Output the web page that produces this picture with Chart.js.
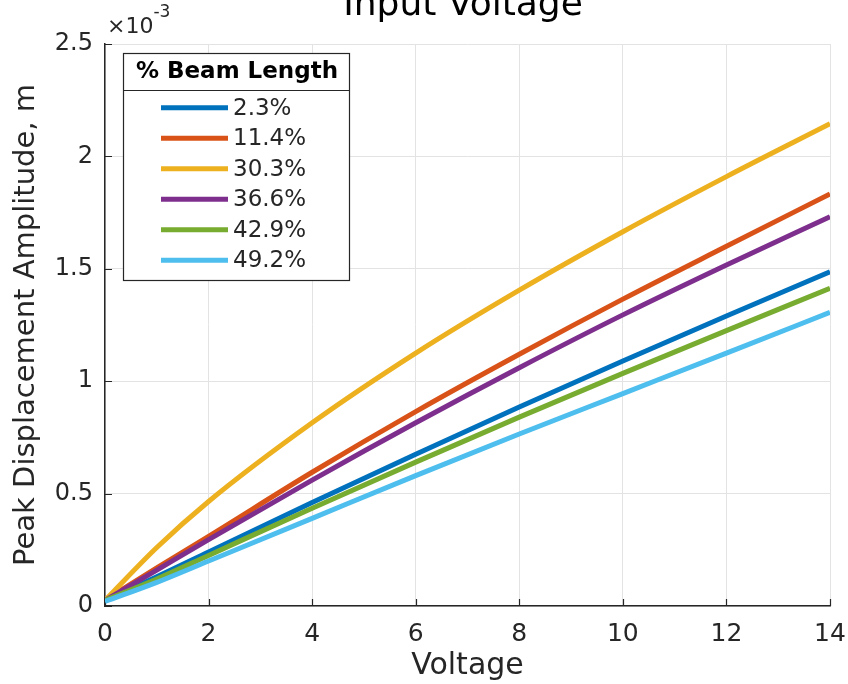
<!DOCTYPE html>
<html><head><meta charset="utf-8">
<script src="https://cdn.jsdelivr.net/npm/chart.js@4"></script>
<style>html,body{margin:0;padding:0;background:#fff}canvas{display:block}</style>
</head><body>
<canvas id="c" width="848" height="684"></canvas>
<script>
// ---- data ----
const voltage = [0, 1, 2, 4, 6, 8, 10, 12, 14];
const seriesLabels = ['2.3%', '11.4%', '30.3%', '36.6%', '42.9%', '49.2%'];
const beam_2_3  = [0.025, 0.13, 0.24, 0.46, 0.675, 0.885, 1.09, 1.29, 1.487];
const beam_11_4 = [0.025, 0.17, 0.31, 0.595, 0.865, 1.12, 1.365, 1.60, 1.833];
const beam_30_3 = [0.025, 0.26, 0.465, 0.815, 1.125, 1.405, 1.665, 1.91, 2.145];
const beam_36_6 = [0.025, 0.16, 0.295, 0.56, 0.815, 1.06, 1.295, 1.517, 1.732];
const beam_42_9 = [0.025, 0.12, 0.225, 0.435, 0.64, 0.84, 1.035, 1.225, 1.413];
const beam_49_2 = [0.02, 0.105, 0.20, 0.39, 0.58, 0.765, 0.945, 1.125, 1.306];
const xTicks = [0, 2, 4, 6, 8, 10, 12, 14];
const yTicks = [0, 0.5, 1, 1.5, 2, 2.5];
const seriesColors = ['#0072BD', '#D95319', '#EDB120', '#7E2F8E', '#77AC30', '#4DBEEE'];
const chartTitle = 'Input Voltage';
const xTitle = 'Voltage';
const yTitle = 'Peak Displacement Amplitude, m';
const legendTitle = '% Beam Length';

const allSeries = [beam_2_3, beam_11_4, beam_30_3, beam_36_6, beam_42_9, beam_49_2];
const FONT = "'DejaVu Sans', sans-serif";
const AXIS = '#262626';
const GRID = '#e3e3e3';

const datasets = allSeries.map((arr, i) => ({
  label: seriesLabels[i],
  data: voltage.map((v, j) => ({x: v, y: arr[j]})),
  borderColor: seriesColors[i],
  backgroundColor: seriesColors[i],
  borderWidth: 5,
  pointRadius: 0,
  fill: false,
  cubicInterpolationMode: 'monotone',
  order: allSeries.length - i
}));

const decor = {
  id: 'decor',
  beforeDatasetsDraw(chart) {
    const ctx = chart.ctx, a = chart.chartArea;
    const xs = chart.scales.x, ys = chart.scales.y;
    ctx.save();
    ctx.strokeStyle = AXIS; ctx.lineWidth = 1.2;
    ctx.beginPath();
    xTicks.forEach(t => { const px = Math.round(xs.getPixelForValue(t)) + 0.5; ctx.moveTo(px, a.bottom); ctx.lineTo(px, a.bottom - 7); });
    yTicks.forEach(t => { const py = Math.round(ys.getPixelForValue(t)) + 0.5; ctx.moveTo(a.left, py); ctx.lineTo(a.left + 7, py); });
    ctx.stroke();
    ctx.restore();
  },
  afterDraw(chart) {
    const ctx = chart.ctx, a = chart.chartArea;
    ctx.save();
    // title (cut off at top)
    ctx.fillStyle = '#000';
    ctx.font = '36px ' + FONT;
    ctx.textAlign = 'center'; ctx.textBaseline = 'alphabetic';
    ctx.fillText(chartTitle, 463, 15);
    // exponent label
    ctx.fillStyle = AXIS;
    ctx.textAlign = 'left';
    ctx.font = '22px ' + FONT;
    ctx.fillText('\u00d710', a.left + 2, 33);
    const w = ctx.measureText('\u00d710').width;
    ctx.font = '17px ' + FONT;
    ctx.fillText('-3', a.left + 2 + w, 17);
    // legend
    const L = 123, T = 53, R = 349, B = 280;
    ctx.fillStyle = '#fff';
    ctx.fillRect(L, T, R - L, B - T);
    ctx.strokeStyle = AXIS; ctx.lineWidth = 1.2;
    ctx.strokeRect(L + 0.5, T + 0.5, R - L, B - T);
    ctx.beginPath(); ctx.moveTo(L, 90.5); ctx.lineTo(R, 90.5); ctx.stroke();
    ctx.fillStyle = '#000';
    ctx.font = 'bold 23px ' + FONT;
    ctx.textAlign = 'center'; ctx.textBaseline = 'middle';
    ctx.fillText(legendTitle, (L + R) / 2 + 1, 72);
    ctx.textAlign = 'left';
    ctx.font = '23px ' + FONT;
    chart.data.datasets.forEach((ds, i) => {
      const y = 107.7 + i * 30.5;
      ctx.strokeStyle = ds.borderColor; ctx.lineWidth = 5;
      ctx.beginPath(); ctx.moveTo(161, y); ctx.lineTo(228, y); ctx.stroke();
      ctx.fillStyle = AXIS;
      ctx.fillText(ds.label, 233, y + 1);
    });
    ctx.restore();
  }
};

new Chart(document.getElementById('c'), {
  type: 'line',
  data: { datasets },
  plugins: [decor],
  options: {
    responsive: false,
    animation: false,
    devicePixelRatio: 1,
    layout: { padding: { top: 44, right: 18, left: 0, bottom: 0 } },
    plugins: { legend: { display: false }, tooltip: { enabled: false }, title: { display: false } },
    scales: {
      x: {
        type: 'linear', min: 0, max: 14,
        afterBuildTicks: s => { s.ticks = xTicks.map(v => ({value: v})); },
        afterFit: s => { s.height = 78; s.paddingLeft = 0; s.paddingRight = 0; },
        grid: { color: GRID, lineWidth: 1, drawTicks: false },
        border: { color: AXIS, width: 1.5 },
        ticks: { color: AXIS, font: { family: FONT, size: 25 }, padding: 13, maxRotation: 0, callback: v => String(v) },
        title: { display: true, text: xTitle, color: AXIS, font: { family: FONT, size: 30 }, padding: { top: 0, bottom: 0 } }
      },
      y: {
        type: 'linear', min: 0, max: 2.5,
        afterBuildTicks: s => { s.ticks = yTicks.map(v => ({value: v})); },
        afterFit: s => { s.width = 105; },
        grid: { color: GRID, lineWidth: 1, drawTicks: false },
        border: { color: AXIS, width: 1.5 },
        ticks: { color: AXIS, font: { family: FONT, size: 24 }, padding: 12, callback: v => String(v) },
        title: { display: true, text: yTitle, color: AXIS, font: { family: FONT, size: 29 }, padding: { top: 9, bottom: 0 } }
      }
    }
  }
});
</script>
</body></html>
